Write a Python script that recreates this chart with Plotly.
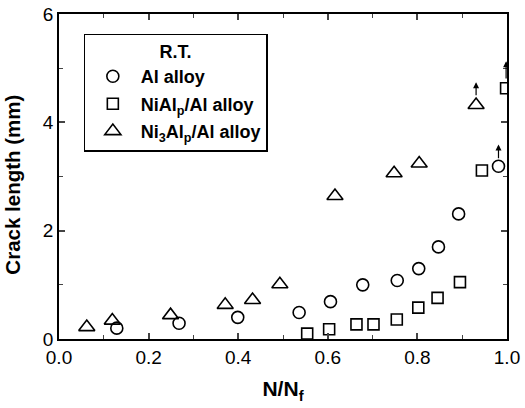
import plotly.graph_objects as go

# Data
al_x = [0.129, 0.268, 0.399, 0.536, 0.606, 0.678, 0.755, 0.803, 0.847, 0.892, 0.981]
al_y = [0.20, 0.29, 0.40, 0.49, 0.69, 1.00, 1.08, 1.30, 1.70, 2.31, 3.19]

nial_x = [0.554, 0.603, 0.664, 0.702, 0.754, 0.802, 0.845, 0.895, 0.944, 0.998]
nial_y = [0.10, 0.18, 0.27, 0.27, 0.36, 0.58, 0.76, 1.05, 3.11, 4.63]

ni3al_x = [0.062, 0.119, 0.249, 0.371, 0.432, 0.493, 0.616, 0.748, 0.804, 0.931]
ni3al_y = [0.22, 0.34, 0.44, 0.63, 0.72, 1.01, 2.64, 3.06, 3.24, 4.32]

x_ticks = [0.0, 0.2, 0.4, 0.6, 0.8, 1.0]
y_ticks = [0, 2, 4, 6]

FONT = "Liberation Sans, Arial, sans-serif"

fig = go.Figure()
fig.add_trace(go.Scatter(x=al_x, y=al_y, mode="markers", name="<b>Al alloy</b>", legendgroup="a",
                         marker=dict(symbol="circle-open", size=12, color="black", line=dict(width=1.6))))
fig.add_trace(go.Scatter(x=nial_x, y=nial_y, mode="markers", name="<b>NiAl<sub>p</sub>/Al alloy</b>", legendgroup="b",
                         marker=dict(symbol="square-open", size=11, color="black", line=dict(width=1.6))))
fig.add_trace(go.Scatter(x=ni3al_x, y=ni3al_y, mode="markers", name="<b>Ni<sub>3</sub>Al<sub>p</sub>/Al alloy</b>", legendgroup="c",
                         marker=dict(symbol="triangle-up-open", size=14, color="black", line=dict(width=1.6))))

# arrows on the last point of each series (crack continues beyond)
for xs, ys, lo, hi in [(al_x, al_y, 0.12, 0.40), (nial_x, nial_y, 0.15, 0.50), (ni3al_x, ni3al_y, 0.15, 0.42)]:
    fig.add_annotation(x=xs[-1], y=ys[-1] + hi, ax=xs[-1], ay=ys[-1] + lo,
                       xref="x", yref="y", axref="x", ayref="y",
                       showarrow=True, arrowhead=2, arrowsize=1, arrowwidth=1.2,
                       arrowcolor="black", text="")

# y-axis title (placed as annotation to match reference position)
fig.add_annotation(text="<b>Crack length (mm)</b>", textangle=-90, showarrow=False,
                   xref="paper", yref="paper", x=0, y=0.475, xanchor="center", yanchor="middle",
                   xshift=-46, font=dict(family=FONT, size=20.5, color="black"))

fig.update_xaxes(range=[0, 1.0], tickvals=x_ticks, ticktext=[f"{v:.1f}" for v in x_ticks],
                 ticks="inside", ticklen=6, tickwidth=1.5, mirror="ticks", automargin=False,
                 showline=True, linecolor="black", linewidth=1.8, showgrid=False, zeroline=False,
                 minor=dict(dtick=0.1, ticks="inside", ticklen=4, tickwidth=1.2),
                 tickfont=dict(family=FONT, size=19, color="black"),
                 title=dict(text="<b>N/N<sub>f</sub></b>", font=dict(family=FONT, size=21, color="black"), standoff=15))
fig.update_yaxes(range=[0, 6], tickvals=y_ticks, ticktext=[str(v) for v in y_ticks],
                 ticks="inside", ticklen=6, tickwidth=1.5, mirror="ticks", automargin=False,
                 showline=True, linecolor="black", linewidth=1.8, showgrid=False, zeroline=False,
                 minor=dict(dtick=1, ticks="inside", ticklen=4, tickwidth=1.2),
                 tickfont=dict(family=FONT, size=19, color="black"))

fig.update_layout(
    width=525, height=408,
    margin=dict(l=59, r=18, t=14, b=69),
    paper_bgcolor="white", plot_bgcolor="white",
    showlegend=True,
    legend=dict(x=0.055, y=0.94, xanchor="left", yanchor="top",
                bordercolor="black", borderwidth=1.2, bgcolor="white",
                font=dict(family=FONT, size=18, color="black"),
                title=dict(text="<b>R.T.</b>", side="top center", font=dict(family=FONT, size=18, color="black")),
                traceorder="grouped", tracegroupgap=1, itemwidth=46),
)

fig.write_html("out.html")
